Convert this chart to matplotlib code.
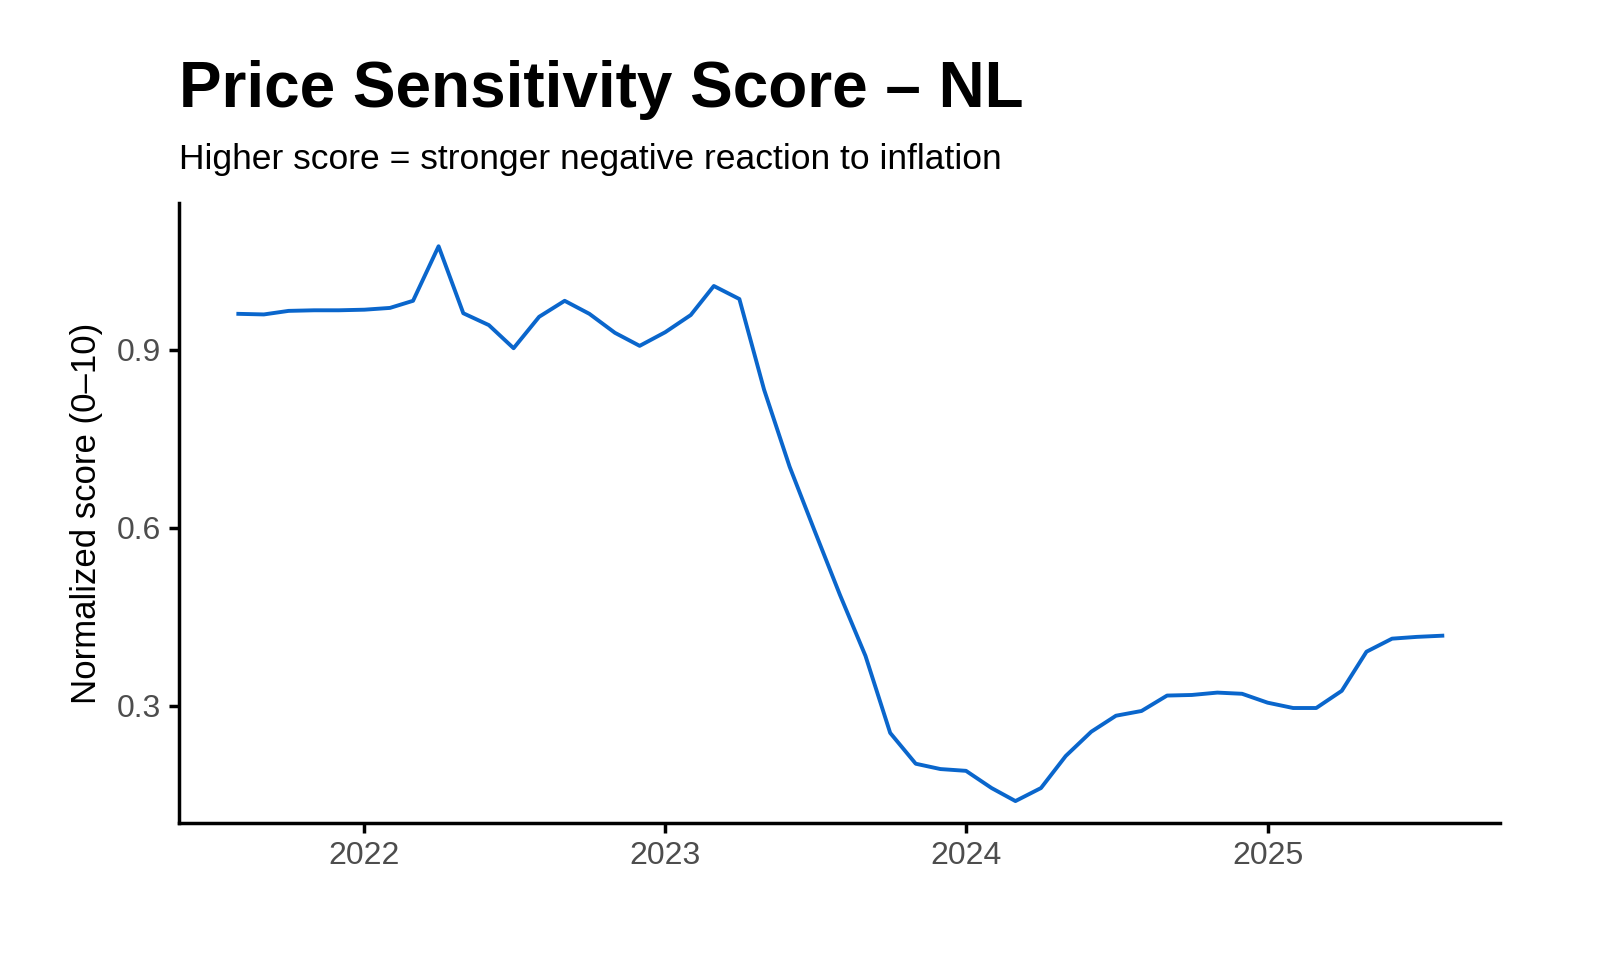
import matplotlib
matplotlib.use("Agg")
import matplotlib.pyplot as plt
import matplotlib.dates as mdates
import pandas as pd

dates = pd.date_range("2021-08-01", periods=49, freq="MS")
scores = [0.961,0.960,0.966,0.967,0.967,0.968,0.971,0.983,1.075,0.962,0.942,0.903,
          0.956,0.983,0.961,0.929,0.907,0.930,0.959,1.008,0.986,0.833,0.703,0.596,
          0.487,0.384,0.254,0.202,0.193,0.190,0.161,0.139,0.161,0.215,0.256,0.283,
          0.291,0.317,0.318,0.322,0.320,0.305,0.296,0.296,0.325,0.391,0.413,0.416,0.418]

plt.rcParams['font.family'] = ['Liberation Sans', 'DejaVu Sans']
fig = plt.figure(figsize=(16, 9.6), dpi=100)
ax = fig.add_axes([179/1600, 1-823/960, (1500-179)/1600, (823-203)/960])
ax.plot(dates, scores, color="#0A66CC", lw=2.8)
ax.set_ylim(0.102, 1.148)
ax.set_xlim(pd.Timestamp("2021-05-21"), pd.Timestamp("2025-10-10"))
ax.set_yticks([0.3, 0.6, 0.9])
ax.set_yticklabels(["0.3", "0.6", "0.9"])
ax.xaxis.set_major_locator(mdates.YearLocator())
ax.xaxis.set_major_formatter(mdates.DateFormatter("%Y"))
for s in ["top", "right"]:
    ax.spines[s].set_visible(False)
for s in ["left", "bottom"]:
    ax.spines[s].set_linewidth(2.5)
ax.tick_params(axis="both", width=2.5, length=7, labelsize=23, colors="#4d4d4d", pad=6)
ax.tick_params(axis="both", color="black")
ax.set_ylabel("Normalized score (0–10)", fontsize=25, labelpad=10)
fig.text(179/1600, 1-90/960, "Price Sensitivity Score – NL", fontsize=46, fontweight="bold", va="center")
fig.text(179/1600, 1-160/960, "Higher score = stronger negative reaction to inflation", fontsize=25.5, va="center")
fig.savefig("out.png", dpi=100)
